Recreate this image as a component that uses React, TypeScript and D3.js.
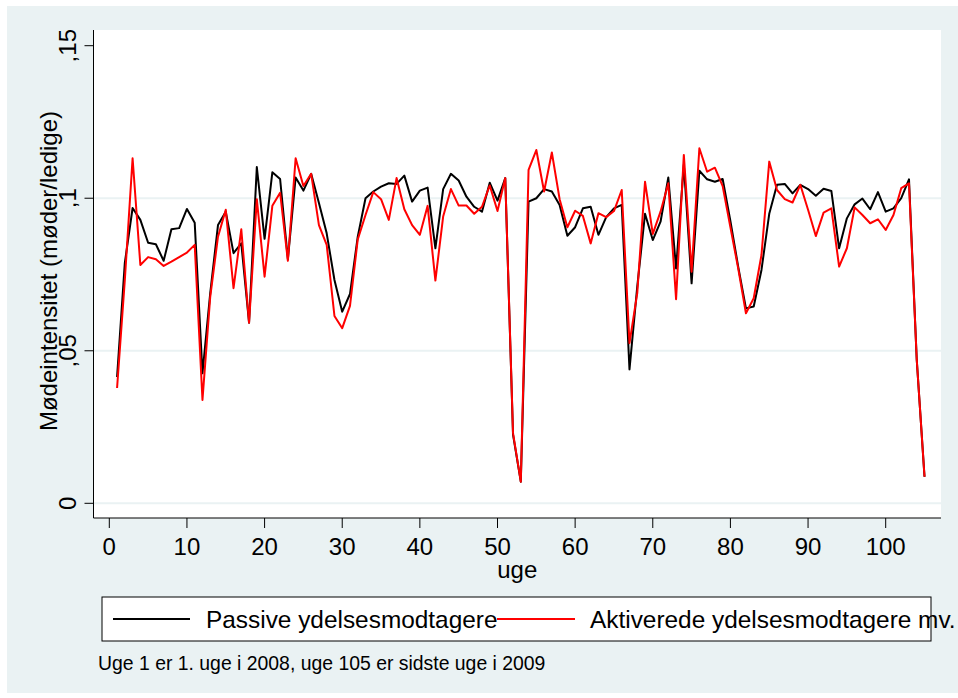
import React from "react";
import * as d3 from "d3";

// week numbers 1..105
const weeks: number[] = d3.range(1, 106);

const passive: number[] = [
  0.0414, 0.0788, 0.0968, 0.0929, 0.0854, 0.0849, 0.0795, 0.0898, 0.0902, 0.0965,
  0.092, 0.0426, 0.0689, 0.0912, 0.0956, 0.082, 0.0852, 0.0592, 0.1102, 0.0867,
  0.1085, 0.1063, 0.08, 0.1068, 0.1025, 0.108, 0.0984, 0.0885, 0.0732, 0.0628,
  0.0686, 0.0874, 0.1, 0.1022, 0.1038, 0.1049, 0.1047, 0.1074, 0.0989, 0.1025,
  0.1035, 0.0836, 0.103, 0.108, 0.1058, 0.1005, 0.0972, 0.0956, 0.1051, 0.0992,
  0.1066, 0.0225, 0.0071, 0.0989, 0.1, 0.103, 0.1022, 0.0978, 0.0877, 0.0905,
  0.0967, 0.0972, 0.088, 0.0938, 0.0967, 0.0978, 0.0439, 0.071, 0.0949, 0.0863,
  0.0923, 0.1068, 0.077, 0.111, 0.0721, 0.109, 0.1062, 0.1054, 0.1063, 0.0925,
  0.0776, 0.0639, 0.0645, 0.0765, 0.0949, 0.1044, 0.1047, 0.1016, 0.1044, 0.103,
  0.1008, 0.1031, 0.1024, 0.0836, 0.0934, 0.098, 0.0999, 0.0964, 0.102, 0.0956,
  0.0967, 0.1, 0.1062, 0.047, 0.0087,
];

const aktiverede: number[] = [
  0.0378, 0.0732, 0.1131, 0.0781, 0.0807, 0.08, 0.0778, 0.0792, 0.0807, 0.0822,
  0.0847, 0.0339, 0.0677, 0.0874, 0.0962, 0.0705, 0.0898, 0.0592, 0.0997, 0.0743,
  0.0975, 0.1018, 0.0795, 0.1131, 0.104, 0.108, 0.0912, 0.0847, 0.0614, 0.0574,
  0.0647, 0.0865, 0.0945, 0.102, 0.0997, 0.0929, 0.1066, 0.0964, 0.0912, 0.088,
  0.0975, 0.073, 0.094, 0.103, 0.0976, 0.0976, 0.0949, 0.0972, 0.1042, 0.0958,
  0.1066, 0.023, 0.0071, 0.1093, 0.1158, 0.1022, 0.115, 0.0997, 0.0905, 0.0959,
  0.0942, 0.0852, 0.0951, 0.0938, 0.0958, 0.1027, 0.0525, 0.0689, 0.1054, 0.0883,
  0.0956, 0.1049, 0.0669, 0.1142, 0.0759, 0.1164, 0.1087, 0.11, 0.104, 0.0905,
  0.077, 0.0623, 0.0672, 0.0814, 0.112, 0.1027, 0.0997, 0.0986, 0.1044, 0.0962,
  0.0876, 0.0953, 0.0967, 0.0776, 0.0836, 0.097, 0.0945, 0.0918, 0.0931, 0.0896,
  0.0945, 0.1033, 0.1049, 0.047, 0.0087,
];

const xTicks: number[] = [0, 10, 20, 30, 40, 50, 60, 70, 80, 90, 100];
const yTicks: number[] = [0, 0.05, 0.1, 0.15];
const yTickLabels: string[] = ["0", ",05", ",1", ",15"];
const gridTicks: number[] = [0, 0.05, 0.1];

const seriesNames = ["Passive ydelsesmodtagere", "Aktiverede ydelsesmodtagere mv."];
const yTitle = "Mødeintensitet (møder/ledige)";
const xTitle = "uge";
const note = "Uge 1 er 1. uge i 2008, uge 105 er sidste uge i 2009";

const W = 958;
const H = 698;
const bg = "#eaf2f3";
const font = "Arial, 'Liberation Sans', sans-serif";

export default function App() {
  const plot = { left: 93.5, right: 941, top: 30, bottom: 518 };

  const x = d3.scaleLinear().domain([0, 100]).range([109.3, 885.7]);
  const y = d3.scaleLinear().domain([0, 0.15]).range([503.3, 45.7]);

  const line = d3
    .line<number>()
    .x((_, i) => x(weeks[i]))
    .y((d) => y(d));

  return (
    <svg
      width={W}
      height={H}
      style={{ position: "absolute", left: 0, top: 0, background: "#fff" }}
      fontFamily={font}
    >
      <rect x={7} y={6} width={W - 7} height={687} fill={bg} />
      <rect
        x={plot.left}
        y={plot.top}
        width={plot.right - plot.left}
        height={plot.bottom - plot.top}
        fill="#fff"
      />

      {gridTicks.map((t) => (
        <line
          key={t}
          x1={plot.left}
          x2={plot.right}
          y1={y(t)}
          y2={y(t)}
          stroke={bg}
          strokeWidth={2}
        />
      ))}

      <path d={line(passive) ?? ""} fill="none" stroke="#000" strokeWidth={2} strokeLinejoin="round" />
      <path d={line(aktiverede) ?? ""} fill="none" stroke="#ff0000" strokeWidth={2} strokeLinejoin="round" />

      {/* axes */}
      <line x1={plot.left} x2={plot.left} y1={plot.top} y2={plot.bottom} stroke="#000" strokeWidth={1} />
      <line x1={plot.left} x2={plot.right} y1={plot.bottom} y2={plot.bottom} stroke="#000" strokeWidth={1} />

      {yTicks.map((t, i) => (
        <g key={t}>
          <line x1={84.5} x2={plot.left} y1={y(t)} y2={y(t)} stroke="#000" strokeWidth={1} />
          <text
            transform={`translate(75.5,${y(t)}) rotate(-90)`}
            textAnchor="middle"
            fontSize={24}
            fill="#000"
          >
            {yTickLabels[i]}
          </text>
        </g>
      ))}

      {xTicks.map((t) => (
        <g key={t}>
          <line x1={x(t)} x2={x(t)} y1={plot.bottom} y2={528} stroke="#000" strokeWidth={1} />
          <text x={x(t)} y={555} textAnchor="middle" fontSize={24} fill="#000">
            {t}
          </text>
        </g>
      ))}

      <text x={(plot.left + plot.right) / 2} y={578} textAnchor="middle" fontSize={24} fill="#000">
        {xTitle}
      </text>
      <text
        transform={`translate(57,271) rotate(-90)`}
        textAnchor="middle"
        fontSize={24}
        fill="#000"
      >
        {yTitle}
      </text>

      {/* legend */}
      <rect x={102} y={597} width={829} height={44} fill="#fff" stroke="#000" strokeWidth={1} />
      <line x1={113} x2={190} y1={619} y2={619} stroke="#000" strokeWidth={2} />
      <text x={206} y={627.5} fontSize={24.4} fill="#000">
        {seriesNames[0]}
      </text>
      <line x1={497} x2={575} y1={619} y2={619} stroke="#ff0000" strokeWidth={2} />
      <text x={590} y={627.5} fontSize={24.4} fill="#000">
        {seriesNames[1]}
      </text>

      <text x={98} y={670} fontSize={19.4} fill="#000">
        {note}
      </text>
    </svg>
  );
}
